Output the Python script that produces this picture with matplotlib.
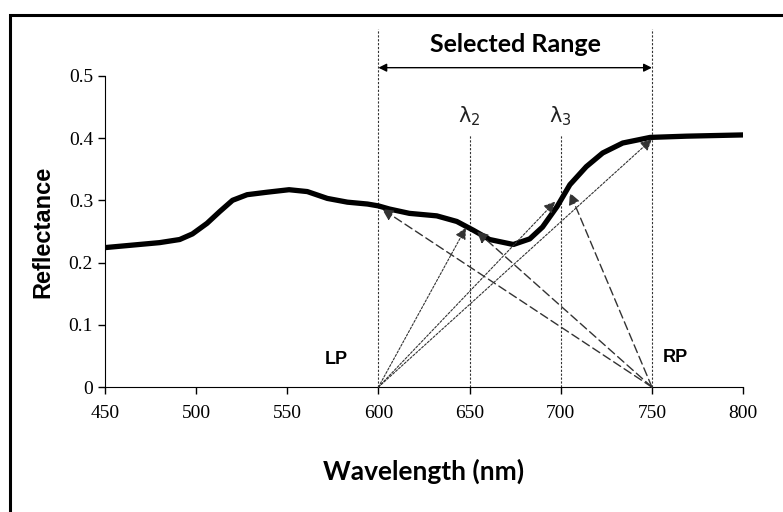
import matplotlib.pyplot as plt
from matplotlib.patches import Rectangle

# reflectance curve
wavelength = [450, 465, 480, 491, 498, 506, 513, 520, 528, 539, 551, 561, 572,
              583, 594, 600, 606, 617, 632, 643, 652, 661, 674, 683, 690, 698,
              705, 714, 723, 734, 749, 769, 800]
reflectance = [0.224, 0.228, 0.232, 0.237, 0.246, 0.263, 0.282, 0.300, 0.309, 0.313,
               0.317, 0.314, 0.303, 0.297, 0.294, 0.291, 0.286, 0.279, 0.275, 0.266,
               0.252, 0.237, 0.229, 0.238, 0.257, 0.290, 0.325, 0.354, 0.376, 0.392,
               0.401, 0.403, 0.405]

# key points
lp = (600, 0.0)
rp = (750, 0.0)
lp_targets = [(648, 0.256), (697, 0.298), (750, 0.398)]
rp_targets = [(602, 0.286), (654, 0.250), (705, 0.312)]
lambda_x = [650, 700]
lambda_labels = ['λ$_2$', 'λ$_3$']

fig = plt.figure(figsize=(7.83, 5.12), dpi=100)
ax = fig.add_axes([0.134, 0.244, 0.815, 0.608])

# outer frame
fig.patches.append(Rectangle((0.013, -0.1), 1.1, 1.071, transform=fig.transFigure,
                             fill=False, lw=2.2, ec='black', clip_on=False))

ax.plot(wavelength, reflectance, color='black', lw=3.8, solid_joinstyle='round', zorder=3)

# vertical guide lines
for x in [600, 750]:
    ax.plot([x, x], [0, 0.575], ls=(0, (2, 1.5)), color='#333333', lw=0.8, clip_on=False)
for x in lambda_x:
    ax.plot([x, x], [0, 0.405], ls=(0, (2, 1.5)), color='#333333', lw=0.8)

# arrows from LP (dotted) and RP (dashed)
for tx, ty in lp_targets:
    ax.annotate('', xy=(tx, ty), xytext=lp,
                arrowprops=dict(arrowstyle='-|>', ls=(0, (2, 1.5)), color='#333333',
                                lw=0.8, mutation_scale=17, shrinkA=0, shrinkB=0))
for tx, ty in rp_targets:
    ax.annotate('', xy=(tx, ty), xytext=rp,
                arrowprops=dict(arrowstyle='-|>', ls=(0, (6, 3)), color='#333333',
                                lw=1.0, mutation_scale=17, shrinkA=0, shrinkB=0))

# selected range arrow
ax.annotate('', xy=(600, 0.513), xytext=(750, 0.513), annotation_clip=False,
            arrowprops=dict(arrowstyle='<|-|>', color='black', lw=1.0,
                            mutation_scale=12, shrinkA=0, shrinkB=0))
ax.text(675, 0.551, 'Selected Range', ha='center', va='center', fontsize=18,
        fontweight='bold', family='Lato', clip_on=False)

for x, lab in zip(lambda_x, lambda_labels):
    ax.text(x, 0.435, lab, ha='center', va='center', fontsize=15, color='#222222',
            family='DejaVu Sans')

ax.text(577, 0.045, 'LP', ha='center', va='center', fontsize=13, fontweight='bold',
        family='Liberation Sans')
ax.text(763, 0.048, 'RP', ha='center', va='center', fontsize=13, fontweight='bold',
        family='Liberation Sans')

ax.set_xlim(450, 800)
ax.set_ylim(0, 0.5)
ax.set_xticks(range(450, 801, 50))
ax.set_yticks([0, 0.1, 0.2, 0.3, 0.4, 0.5])
ax.set_yticklabels(['0', '0.1', '0.2', '0.3', '0.4', '0.5'])
for lab in ax.get_xticklabels() + ax.get_yticklabels():
    lab.set_family('Liberation Serif')
    lab.set_fontsize(14)
ax.tick_params(direction='out', length=5, width=1, color='black')
ax.tick_params(axis='x', pad=8)
ax.spines['top'].set_visible(False)
ax.spines['right'].set_visible(False)

ax.set_xlabel('Wavelength (nm)', fontsize=19, fontweight='bold', family='Lato', labelpad=26)
ax.set_ylabel('Reflectance', fontsize=17, fontweight='bold', family='Liberation Sans', labelpad=10)

fig.savefig('out.png', dpi=100)
